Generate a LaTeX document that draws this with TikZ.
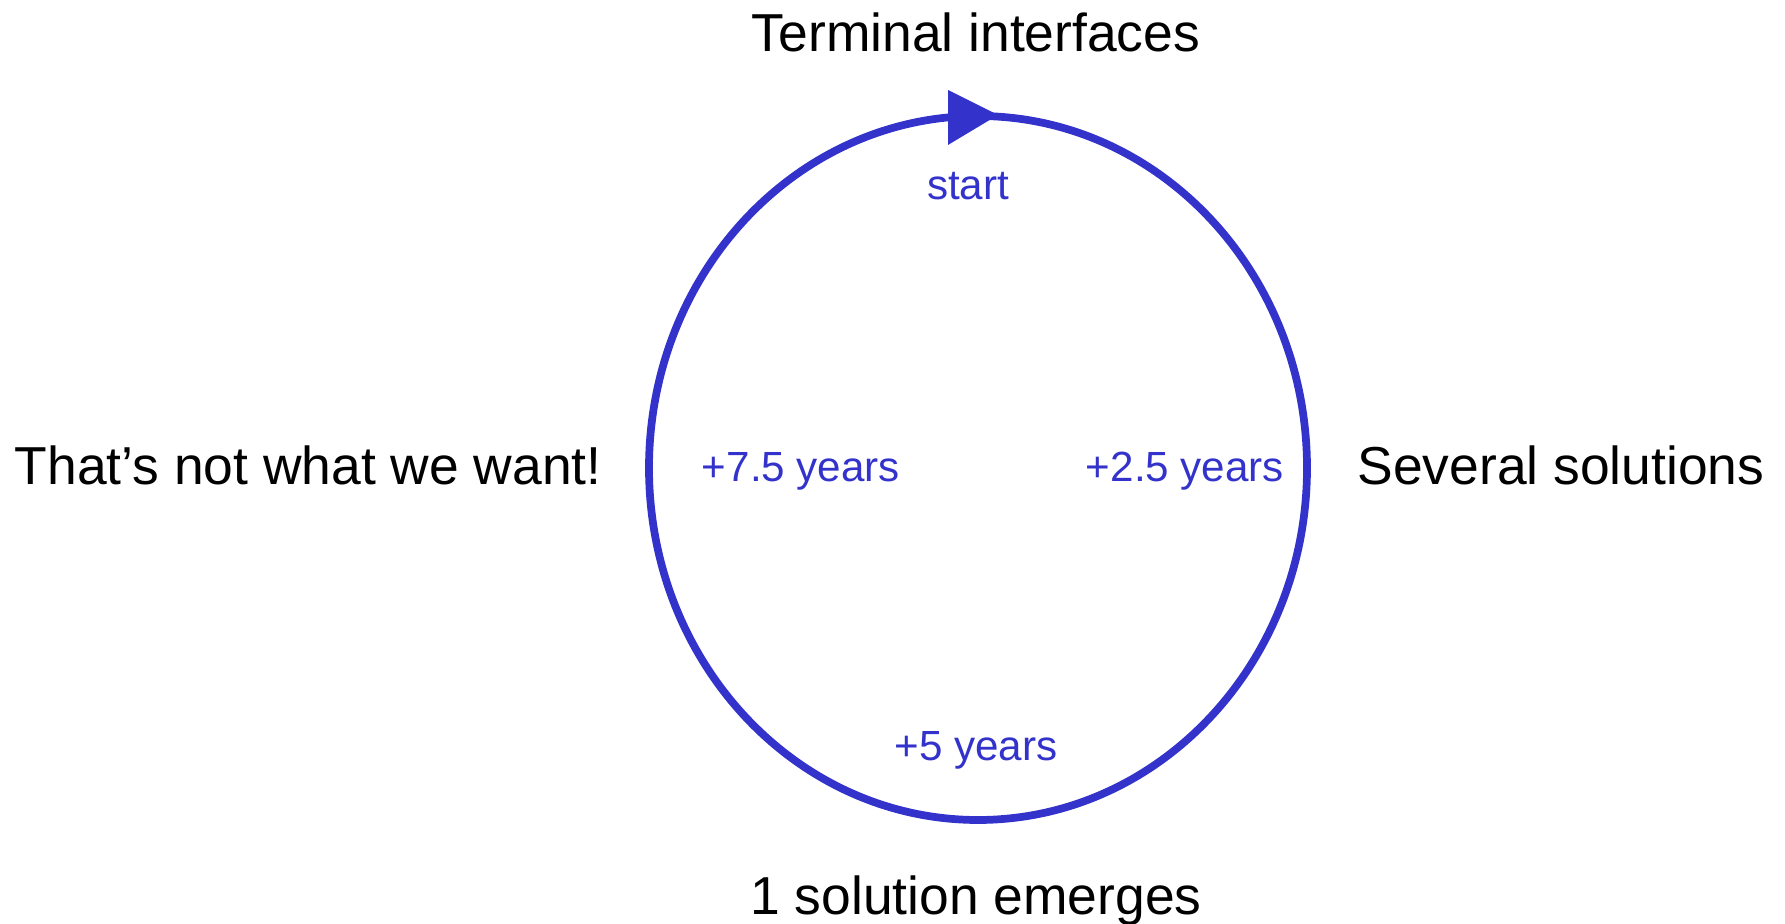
\documentclass[tikz,border=0pt]{standalone}
\usepackage{fontspec}
\setmainfont{Liberation Sans}
\usepackage{xcolor}
\usepackage{tikz}
\definecolor{cycleblue}{HTML}{3333CC}

\begin{document}
\begin{tikzpicture}[x=0.1mm,y=-0.1mm]
    \useasboundingbox (0,0) rectangle (1785,924);

    % the cycle
    \draw[cycleblue, line width=2.2pt] (978,468) ellipse (329 and 352);
    \fill[cycleblue] (948,90) -- (998,115) -- (948,145) -- cycle;

    % labels inside the cycle
    \node[color=cycleblue, anchor=base, inner sep=0pt, font=\fontsize{12}{14}\selectfont] (start) at (968,200) {start};
    \node[color=cycleblue, anchor=base, inner sep=0pt, font=\fontsize{12}{14}\selectfont] (twohalf) at (1185,482) {+2.5 years};
    \node[color=cycleblue, anchor=base, inner sep=0pt, font=\fontsize{12}{14}\selectfont] (five) at (976,761) {+5 years};
    \node[color=cycleblue, anchor=base, inner sep=0pt, font=\fontsize{12}{14}\selectfont] (sevenhalf) at (801,482) {+7.5 years};

    % stages outside
    \node[anchor=base, inner sep=0pt, font=\fontsize{15.2}{18}\selectfont] (terminal) at (976,52) {Terminal interfaces};
    \node[anchor=base east, inner sep=0pt, font=\fontsize{15.2}{18}\selectfont] (several) at (1765,485) {Several solutions};
    \node[anchor=base, inner sep=0pt, font=\fontsize{15.2}{18}\selectfont] (emerges) at (976,915) {1 solution emerges};
    \node[anchor=base west, inner sep=0pt, font=\fontsize{15.2}{18}\selectfont] (notwant) at (14,485) {That’s not what we want!};

\end{tikzpicture}
\end{document}
